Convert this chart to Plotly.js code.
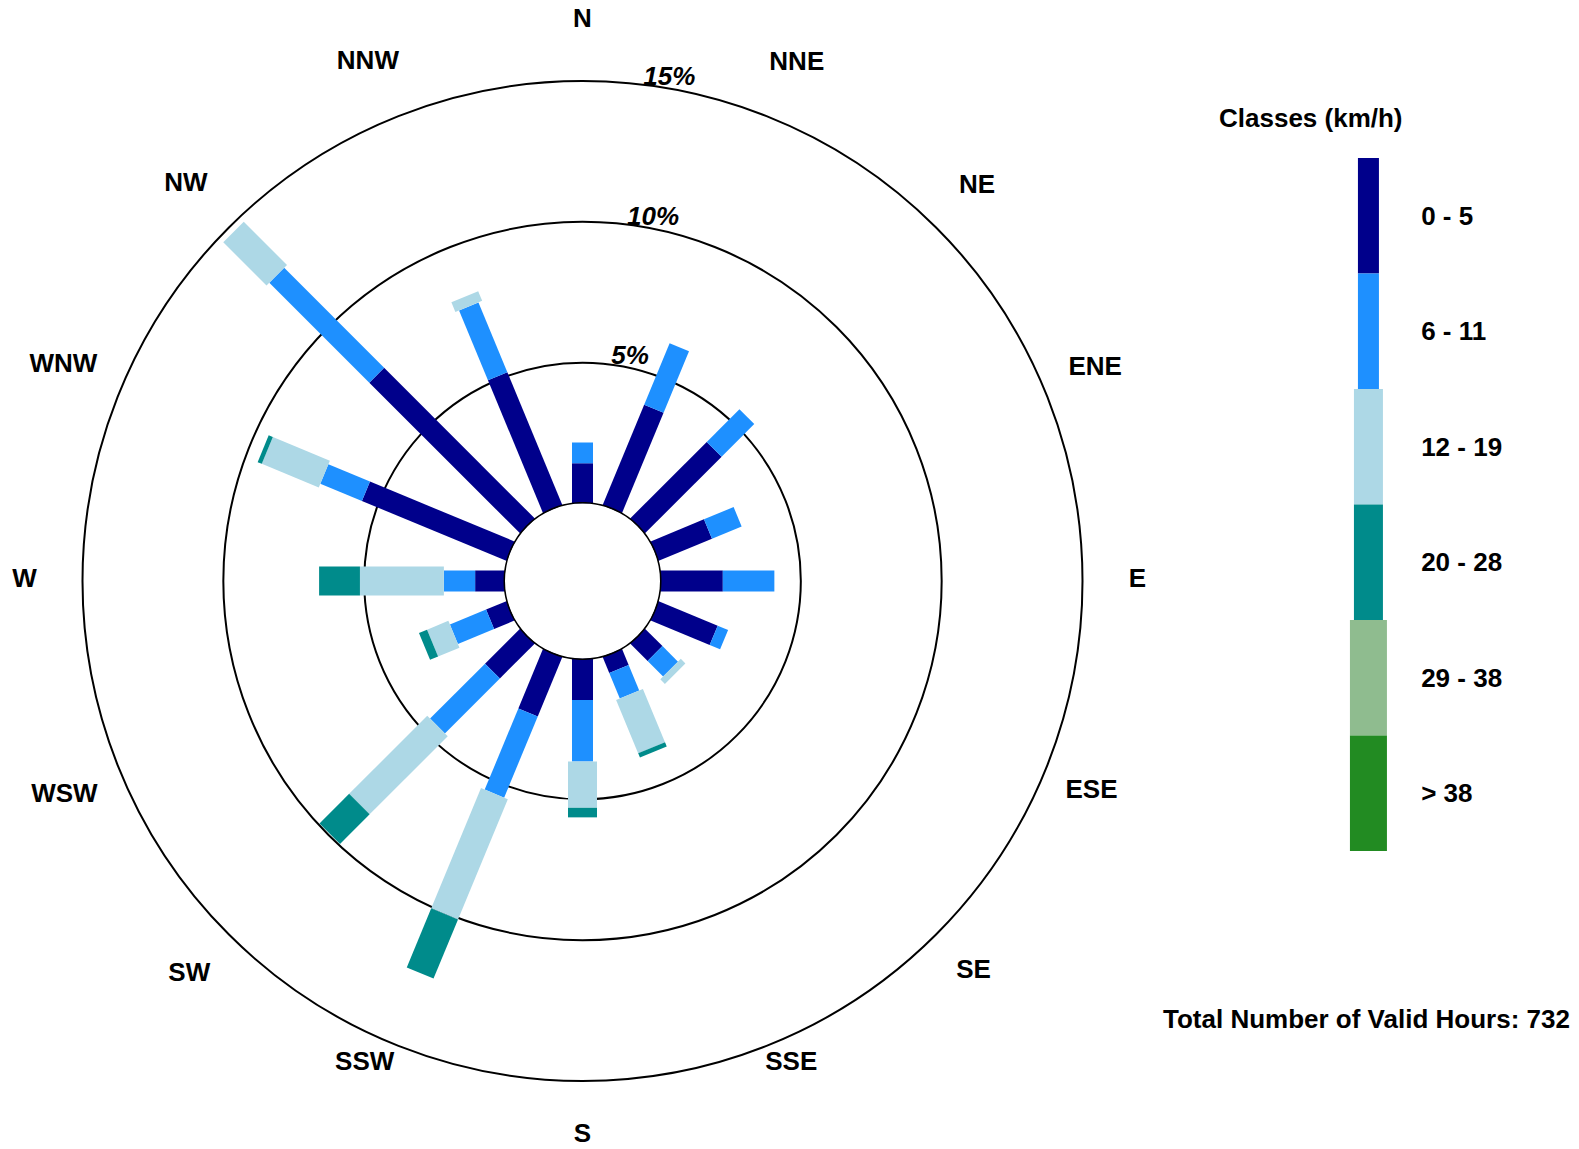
<!DOCTYPE html>
<html>
<head>
<meta charset="utf-8">
<script src="https://cdn.plot.ly/plotly-3.0.1.min.js"></script>
<style>html,body{margin:0;padding:0;background:#fff;} #chart{width:1579px;height:1149px;}</style>
</head>
<body>
<div id="chart"></div>
<script>
// ---- data ----
const directions = ['N','NNE','NE','ENE','E','ESE','SE','SSE','S','SSW','SW','WSW','W','WNW','NW','NNW'];
const classLabels = ['0 - 5','6 - 11','12 - 19','20 - 28','29 - 38','> 38'];
// frequency (%) per direction, for each speed class
const class0to5   = [1.43, 3.87, 3.86, 2.07, 2.23, 2.29, 0.89, 0.63, 1.47, 2.30, 1.77, 0.80, 1.06, 5.57, 7.58, 5.12];
const class6to11  = [0.74, 2.36, 1.64, 1.14, 1.83, 0.40, 0.78, 0.98, 2.19, 3.12, 2.76, 1.39, 1.11, 1.60, 5.02, 2.68];
const class12to19 = [0, 0, 0, 0, 0, 0, 0.23, 2.05, 1.64, 4.62, 3.92, 0.82, 2.98, 2.19, 2.17, 0.37];
const class20to28 = [0, 0, 0, 0, 0, 0, 0, 0.16, 0.34, 2.27, 1.49, 0.31, 1.45, 0.16, 0, 0];
const class29to38 = [0, 0, 0, 0, 0, 0, 0, 0, 0, 0, 0, 0, 0, 0, 0, 0];
const classOver38 = [0, 0, 0, 0, 0, 0, 0, 0, 0, 0, 0, 0, 0, 0, 0, 0];
const ringValues = [5, 10, 15];
const ringLabels = ['5%', '10%', '15%'];
const totalHours = 732;

// ---- styles / label placement ----
const classColors = ['#00008B', '#1E90FF', '#ADD8E6', '#008B8B', '#8FBC8F', '#228B22'];
const classWidths = [21, 21, 29, 29, 37, 37];
// placement (axis units / degrees offset) of the compass labels
const dirLabelR = [17.16, 17.13, 17.06, 16.95, 16.95, 16.81, 16.88, 15.91, 16.92, 16.04, 16.99, 17.16, 17.06, 17.20, 17.16, 17.16];
const dirLabelShift = [0, 0, 0, 0, 0, 0, 0, -0.9, 0, 1.8, 0, 0, 0, 0, 0, 0];
// placement of the ring labels
const ringLabelOffset = 0.37;
const ringLabelTheta = [12, 11, 9.8];
const FONT = 'Liberation Sans, Arial, sans-serif';
const FS = 26;

const series = [class0to5, class6to11, class12to19, class20to28, class29to38, classOver38];
const angles = directions.map((d, i) => i * 360 / directions.length);

const traces = [];
const base = directions.map(() => 0);
series.forEach((vals, k) => {
  const r = [], th = [];
  vals.forEach((v, i) => {
    if (v > 0) { r.push(base[i], base[i] + v, null); th.push(angles[i], angles[i], null); }
    base[i] += v;
  });
  traces.push({
    type: 'scatterpolar', mode: 'lines', r: r, theta: th, connectgaps: false,
    line: {color: classColors[k], width: classWidths[k]},
    cliponaxis: false, hoverinfo: 'skip', showlegend: false
  });
});

// inner hole outline
const circleTheta = Array.from({length: 181}, (_, i) => i * 2);
traces.push({
  type: 'scatterpolar', mode: 'lines', r: circleTheta.map(() => 0), theta: circleTheta,
  line: {color: 'black', width: 3}, cliponaxis: false, hoverinfo: 'skip', showlegend: false
});

// ring labels
traces.push({
  type: 'scatterpolar', mode: 'text',
  r: ringValues.map(v => v + ringLabelOffset), theta: ringLabelTheta,
  text: ringLabels.map(t => '<b><i>' + t + '</i></b>'),
  textposition: 'middle center',
  textfont: {family: FONT, size: FS, color: 'black'},
  cliponaxis: false, hoverinfo: 'skip', showlegend: false
});

// compass labels
traces.push({
  type: 'scatterpolar', mode: 'text',
  r: dirLabelR, theta: angles.map((a, i) => a + dirLabelShift[i]),
  text: directions.map(t => '<b>' + t + '</b>'),
  textposition: 'middle center',
  textfont: {family: FONT, size: FS, color: 'black'},
  cliponaxis: false, hoverinfo: 'skip', showlegend: false
});

// legend strip (cartesian)
classLabels.forEach((lab, k) => {
  const n = classLabels.length;
  traces.push({
    type: 'scatter', mode: 'lines', xaxis: 'x', yaxis: 'y',
    x: [0, 0], y: [n - 1 - k, n - k],
    line: {color: classColors[k], width: classWidths[k]},
    cliponaxis: false, hoverinfo: 'skip', showlegend: false
  });
});

const layout = {
  width: 1579, height: 1149,
  margin: {l: 0, r: 0, t: 0, b: 0},
  paper_bgcolor: 'white',
  font: {family: FONT, color: 'black'},
  showlegend: false,
  polar: {
    domain: {x: [0.009183, 0.728626], y: [0, 0.988686]},
    hole: 0.136444,
    bgcolor: 'white',
    radialaxis: {
      range: [0, 17.4142], tickmode: 'array', tickvals: ringValues,
      showticklabels: false, ticks: '', showline: false,
      showgrid: true, gridcolor: 'black', gridwidth: 2
    },
    angularaxis: {
      rotation: 90, direction: 'clockwise',
      tickmode: 'array', tickvals: angles, ticktext: directions,
      showgrid: false, showline: false, showticklabels: false, ticks: ''
    }
  },
  xaxis: {domain: [0.8543, 0.8790], range: [-1, 1], visible: false, fixedrange: true},
  yaxis: {
    domain: [0.2594, 0.8625], range: [0, classLabels.length], anchor: 'x', side: 'right',
    tickmode: 'array',
    tickvals: classLabels.map((l, k) => classLabels.length - 0.5 - k),
    ticktext: classLabels,
    showgrid: false, zeroline: false, showline: false,
    ticks: 'outside', ticklen: 27, tickcolor: 'rgba(0,0,0,0)',
    tickfont: {family: FONT, size: FS, color: 'black', weight: 'bold'},
    fixedrange: true
  },
  annotations: [
    {text: 'Classes (km/h)', xref: 'paper', yref: 'paper', x: 0.8300, y: 0.8973,
     xanchor: 'center', yanchor: 'middle', showarrow: false,
     font: {family: FONT, size: FS, color: 'black', weight: 'bold'}},
    {text: 'Total Number of Valid Hours: ' + totalHours, xref: 'paper', yref: 'paper', x: 0.8657, y: 0.1131,
     xanchor: 'center', yanchor: 'middle', showarrow: false,
     font: {family: FONT, size: FS, color: 'black', weight: 'bold'}}
  ]
};

Plotly.newPlot('chart', traces, layout, {displayModeBar: false, staticPlot: true});
</script>
</body>
</html>
